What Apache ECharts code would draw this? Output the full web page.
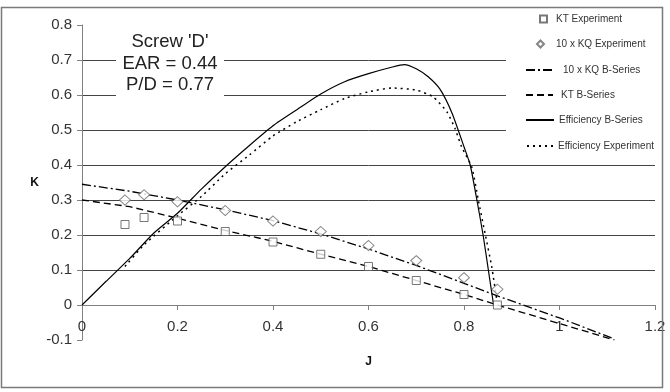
<!DOCTYPE html>
<html>
<head>
<meta charset="utf-8">
<title>Screw D</title>
<script src="https://cdn.jsdelivr.net/npm/echarts@6.0.0/dist/echarts.min.js"></script>
<style>
  html, body { margin: 0; padding: 0; background: #fff; }
  #chart { width: 670px; height: 392px; }
</style>
</head>
<body>
<div id="chart"></div>
<script>
// experiment points
const expJ = [0.09, 0.13, 0.2, 0.3, 0.4, 0.5, 0.6, 0.7, 0.8, 0.87];
const ktExp = [0.23, 0.25, 0.24, 0.21, 0.18, 0.145, 0.11, 0.07, 0.03, 0.0];
const kqExp10 = [0.30, 0.315, 0.295, 0.27, 0.24, 0.21, 0.17, 0.127, 0.078, 0.045];

// B-series curves
const bJ = [0, 0.1, 0.2, 0.3, 0.4, 0.5, 0.6, 0.7, 0.8, 0.87, 1.0, 1.115];
const ktB = [0.30, 0.281, 0.248, 0.213, 0.182, 0.145, 0.11, 0.07, 0.03, 0.0, -0.053, -0.1];
const kqB10 = [0.345, 0.325, 0.30, 0.272, 0.241, 0.203, 0.16, 0.113, 0.062, 0.026, -0.037, -0.097];

const effBJ = [0, 0.05, 0.1, 0.15, 0.2, 0.25, 0.3, 0.35, 0.4, 0.45, 0.5, 0.55, 0.6, 0.65, 0.675,
  0.7, 0.725, 0.75, 0.775, 0.8, 0.813, 0.827, 0.84, 0.851, 0.862];
const effB = [0, 0.067, 0.133, 0.205, 0.262, 0.331, 0.395, 0.455, 0.512, 0.558, 0.603, 0.638, 0.661, 0.68, 0.687,
  0.675, 0.652, 0.616, 0.548, 0.452, 0.40, 0.30, 0.20, 0.10, 0.0];

const effExpJ = [0.09, 0.13, 0.2, 0.25, 0.3, 0.35, 0.4, 0.45, 0.5, 0.55, 0.6, 0.65, 0.7,
  0.735, 0.764, 0.781, 0.795, 0.816, 0.83, 0.844, 0.858, 0.868];
const effExp = [0.11, 0.172, 0.255, 0.31, 0.375, 0.428, 0.483, 0.524, 0.558, 0.59, 0.609, 0.62, 0.614,
  0.595, 0.552, 0.505, 0.452, 0.395, 0.30, 0.205, 0.11, 0.02];

const titleLines = ["Screw 'D'", 'EAR = 0.44', 'P/D = 0.77'];

const zip = (xs, ys) => xs.map((x, i) => [x, ys[i]]);

const FONT = '"Liberation Sans", Arial, sans-serif';
const legendText = { fontFamily: FONT, fontSize: 10, color: '#333', lineHeight: 12 };

// one legend box per entry, so each can sit where the original has it
function oneLegend(name, left, top, w, h, padLeft, hideSymbol) {
  const lg = {
    data: [name], left: left, top: top, padding: 0,
    itemWidth: w, itemHeight: h,
    textStyle: Object.assign({}, legendText, { padding: [0, 0, 0, padLeft] })
  };
  if (hideSymbol) lg.itemStyle = { opacity: 0 };
  return lg;
}

const chart = echarts.init(document.getElementById('chart'));

const option = {
  animation: false,
  backgroundColor: '#fff',
  grid: { left: 82, right: 15, top: 25, bottom: 52 },
  xAxis: {
    type: 'value', min: 0, max: 1.2, interval: 0.2,
    name: 'J', nameLocation: 'middle', nameGap: 51,
    nameTextStyle: { fontFamily: FONT, fontWeight: 'bold', fontSize: 12, color: '#111' },
    // axis drawn on the K = 0 line (0.1 of K = 35px)
    offset: -35,
    axisLine: { show: true, onZero: false, lineStyle: { color: '#808080', width: 1 } },
    axisTick: { show: true, length: 5, lineStyle: { color: '#808080' } },
    axisLabel: { margin: 14, fontFamily: FONT, fontSize: 15, color: '#333' },
    splitLine: { show: false }
  },
  yAxis: {
    type: 'value', min: -0.1, max: 0.8, interval: 0.1,
    name: 'K', nameLocation: 'middle', nameRotate: 0, nameGap: 43,
    nameTextStyle: { fontFamily: FONT, fontWeight: 'bold', fontSize: 12, color: '#111' },
    axisLine: { show: true, onZero: false, lineStyle: { color: '#808080', width: 1 } },
    axisTick: { show: true, length: 5, lineStyle: { color: '#808080' } },
    axisLabel: { margin: 10, fontFamily: FONT, fontSize: 15, color: '#333' },
    // gridlines only from 0.1 to 0.7
    splitLine: {
      show: true,
      lineStyle: {
        width: 1,
        color: ['transparent', 'transparent', '#444', '#444', '#444', '#444', '#444', '#444', '#444', 'transparent']
      }
    }
  },
  legend: [
    oneLegend('KT Experiment', 539, 13, 7, 7, 4, false),
    oneLegend('10 x KQ Experiment', 536, 38, 7, 7, 7, false),
    oneLegend('10 x KQ B-Series', 525, 64, 27, 12, 5, true),
    oneLegend('KT B-Series', 525, 89, 27, 12, 3, true),
    oneLegend('Efficiency B-Series', 525, 114, 28, 12, 0, true),
    oneLegend('Efficiency Experiment', 526, 140, 26, 12, 0, true)
  ],
  series: [
    {
      name: 'KT Experiment', type: 'scatter', z: 3,
      data: zip(expJ, ktExp),
      symbol: 'rect', symbolSize: 8,
      itemStyle: { color: '#fff', borderColor: '#555', borderWidth: 1 }
    },
    {
      name: '10 x KQ Experiment', type: 'scatter', z: 3,
      data: zip(expJ, kqExp10),
      symbol: 'diamond', symbolSize: [11, 10],
      itemStyle: { color: '#fff', borderColor: '#666', borderWidth: 1 }
    },
    {
      name: '10 x KQ B-Series', type: 'line', symbol: 'none', showSymbol: false,
      data: zip(bJ, kqB10),
      itemStyle: { color: '#000' },
      lineStyle: { color: '#000', width: 1.3, type: [9, 3, 2, 3] }
    },
    {
      name: 'KT B-Series', type: 'line', symbol: 'none', showSymbol: false,
      data: zip(bJ, ktB),
      itemStyle: { color: '#000' },
      lineStyle: { color: '#000', width: 1.3, type: [7, 4] }
    },
    {
      name: 'Efficiency B-Series', type: 'line', symbol: 'none', showSymbol: false,
      data: zip(effBJ, effB), smooth: 0.2,
      itemStyle: { color: '#000' },
      lineStyle: { color: '#000', width: 1.2, type: 'solid' }
    },
    {
      name: 'Efficiency Experiment', type: 'line', symbol: 'none', showSymbol: false,
      data: zip(effExpJ, effExp), smooth: 0.2,
      itemStyle: { color: '#000' },
      lineStyle: { color: '#000', width: 1.5, type: [2, 4] }
    }
  ],
  graphic: {
    elements: [
      // white box behind the title text
      { type: 'rect', z: 1, silent: true, shape: { x: 116, y: 28, width: 108, height: 72 }, style: { fill: '#fff' } },
      // white box behind the legend
      { type: 'rect', z: 1, silent: true, shape: { x: 506, y: 10, width: 151, height: 147 }, style: { fill: '#fff' } },
      ...titleLines.map((t, i) => ({
        type: 'text', z: 5, silent: true, x: 170, y: 42 + i * 21.6,
        style: { text: t, font: '18.5px ' + FONT, fill: '#222', align: 'center', verticalAlign: 'middle' }
      })),
      // outer frame
      { type: 'rect', z: 10, silent: true, shape: { x: 1.5, y: 7.5, width: 661, height: 380 },
        style: { fill: 'transparent', stroke: '#7a7a7a', lineWidth: 1.5 } }
    ]
  }
};

chart.setOption(option);
</script>
</body>
</html>
